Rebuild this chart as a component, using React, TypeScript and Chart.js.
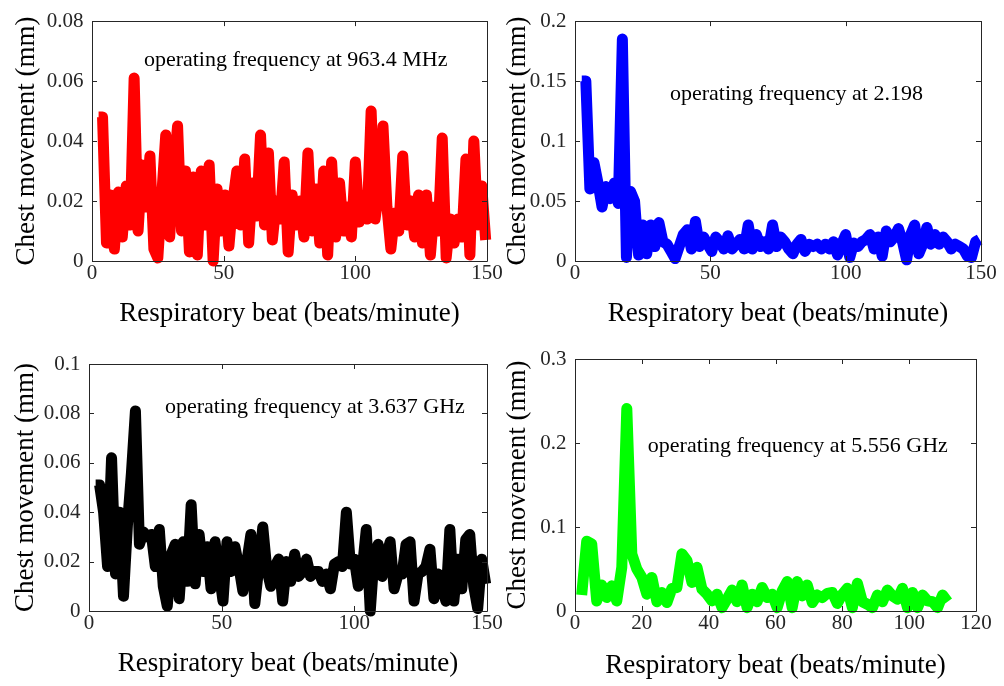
import React, { useEffect, useRef } from "react";
import { Chart, registerables } from "chart.js";

Chart.register(...registerables);

// ---------- data ----------
const beatGrid = [
  2.5, 4, 5.5, 7, 8.5, 10, 11.5, 13, 14.5, 16,
  17.5, 19, 20.5, 22, 23.5, 25, 26.5, 28, 29.5, 31,
  32.5, 34, 35.5, 37, 38.5, 40, 41.5, 43, 44.5, 46,
  47.5, 49, 50.5, 52, 53.5, 55, 56.5, 58, 59.5, 61,
  62.5, 64, 65.5, 67, 68.5, 70, 71.5, 73, 74.5, 76,
  77.5, 79, 80.5, 82, 83.5, 85, 86.5, 88, 89.5, 91,
  92.5, 94, 95.5, 97, 98.5, 100, 101.5, 103, 104.5, 106,
  107.5, 109, 110.5, 112, 113.5, 115, 116.5, 118, 119.5, 121,
  122.5, 124, 125.5, 127, 128.5, 130, 131.5, 133, 134.5, 136,
  137.5, 139, 140.5, 142, 143.5, 145, 146.5, 148, 149.5,
];

const beatGridGreen = [
  2, 3.5, 5, 6.5, 8, 9.5, 11, 12.5, 14, 15.5,
  17, 18.5, 20, 21.5, 23, 24.5, 26, 27.5, 29, 30.5,
  32, 33.5, 35, 36.5, 38, 39.5, 41, 42.5, 44, 45.5,
  47, 48.5, 50, 51.5, 53, 54.5, 56, 57.5, 59, 60.5,
  62, 63.5, 65, 66.5, 68, 69.5, 71, 72.5, 74, 75.5,
  77, 78.5, 80, 81.5, 83, 84.5, 86, 87.5, 89, 90.5,
  92, 93.5, 95, 96.5, 98, 99.5, 101, 102.5, 104, 105.5,
  107, 108.5, 110, 111.5,
];

const move963MHz = [
  0.048, 0.048, 0.006, 0.022, 0.004, 0.023, 0.008, 0.025, 0.012, 0.061,
  0.010, 0.032, 0.018, 0.035, 0.004, 0.001, 0.022, 0.042, 0.008, 0.030,
  0.045, 0.010, 0.030, 0.003, 0.028, 0.002, 0.030, 0.012, 0.032, 0.000,
  0.024, 0.010, 0.022, 0.005, 0.020, 0.030, 0.012, 0.034, 0.006, 0.026,
  0.015, 0.042, 0.012, 0.036, 0.007, 0.020, 0.014, 0.033, 0.003, 0.022,
  0.012, 0.020, 0.008, 0.036, 0.010, 0.024, 0.006, 0.030, 0.002, 0.033,
  0.008, 0.026, 0.010, 0.018, 0.008, 0.033, 0.013, 0.020, 0.014, 0.050,
  0.014, 0.024, 0.045, 0.018, 0.004, 0.016, 0.010, 0.035, 0.012, 0.020,
  0.008, 0.022, 0.006, 0.022, 0.002, 0.018, 0.010, 0.041, 0.001, 0.014,
  0.006, 0.014, 0.008, 0.034, 0.002, 0.040, 0.012, 0.025, 0.007,
];

const move2198 = [
  0.150, 0.150, 0.060, 0.082, 0.065, 0.045, 0.062, 0.052, 0.065, 0.048,
  0.185, 0.003, 0.058, 0.050, 0.005, 0.030, 0.006, 0.030, 0.012, 0.032,
  0.016, 0.014, 0.008, 0.002, 0.012, 0.022, 0.026, 0.010, 0.033, 0.012,
  0.020, 0.014, 0.008, 0.020, 0.016, 0.010, 0.021, 0.010, 0.014, 0.018,
  0.010, 0.030, 0.010, 0.022, 0.012, 0.016, 0.010, 0.030, 0.012, 0.020,
  0.016, 0.010, 0.006, 0.014, 0.018, 0.008, 0.014, 0.012, 0.014, 0.010,
  0.014, 0.010, 0.016, 0.005, 0.014, 0.022, 0.003, 0.015, 0.012, 0.016,
  0.018, 0.022, 0.010, 0.020, 0.004, 0.025, 0.016, 0.020, 0.027, 0.016,
  0.001, 0.022, 0.030, 0.006, 0.014, 0.028, 0.014, 0.022, 0.014, 0.020,
  0.016, 0.010, 0.014, 0.012, 0.010, 0.004, 0.003, 0.016, 0.018,
];

const move3637GHz = [
  0.051, 0.051, 0.040, 0.018, 0.062, 0.015, 0.040, 0.006, 0.035, 0.056,
  0.081, 0.027, 0.032, 0.030, 0.031, 0.018, 0.033, 0.010, 0.002, 0.023,
  0.027, 0.005, 0.028, 0.012, 0.043, 0.011, 0.031, 0.016, 0.026, 0.009,
  0.028, 0.016, 0.004, 0.028, 0.016, 0.026, 0.018, 0.008, 0.020, 0.031,
  0.003, 0.018, 0.034, 0.017, 0.010, 0.018, 0.021, 0.004, 0.020, 0.012,
  0.023, 0.014, 0.016, 0.021, 0.014, 0.016, 0.016, 0.012, 0.015, 0.009,
  0.019, 0.020, 0.018, 0.040, 0.019, 0.021, 0.010, 0.017, 0.033, 0.000,
  0.023, 0.027, 0.014, 0.022, 0.028, 0.009, 0.015, 0.015, 0.027, 0.028,
  0.004, 0.015, 0.016, 0.018, 0.025, 0.005, 0.015, 0.010, 0.004, 0.033,
  0.004, 0.021, 0.009, 0.029, 0.031, 0.010, 0.001, 0.021, 0.011,
];

const move5556GHz = [
  0.019, 0.083, 0.080, 0.012, 0.031, 0.016, 0.030, 0.012, 0.052, 0.241,
  0.068, 0.050, 0.040, 0.020, 0.040, 0.011, 0.022, 0.010, 0.027, 0.028,
  0.068, 0.060, 0.034, 0.052, 0.026, 0.020, 0.012, 0.020, 0.004, 0.014,
  0.025, 0.011, 0.031, 0.004, 0.020, 0.011, 0.028, 0.016, 0.020, 0.004,
  0.024, 0.035, 0.004, 0.035, 0.018, 0.031, 0.010, 0.019, 0.016, 0.021,
  0.022, 0.009, 0.020, 0.027, 0.004, 0.033, 0.011, 0.008, 0.004, 0.019,
  0.011, 0.025, 0.018, 0.014, 0.027, 0.004, 0.022, 0.004, 0.019, 0.012,
  0.011, 0.004, 0.019, 0.011,
];

const notes = [
  "operating frequency at 963.4 MHz",
  "operating frequency at 2.198",
  "operating frequency at 3.637 GHz",
  "operating frequency at 5.556 GHz",
];

const xTitle = "Respiratory beat (beats/minute)";
const yTitle = "Chest movement (mm)";

// ---------- drawing ----------
const FONT = '"Liberation Serif", "Times New Roman", Times, serif';
const AXIS_COLOR = "#262626";

type PanelProps = {
  xs: number[];
  ys: number[];
  color: string;
  xMax: number;
  xStep: number;
  yMax: number;
  yStep: number;
  note: string;
  noteAt: [number, number];
  canvas: { x: number; y: number; w: number; h: number };
  area: { L: number; T: number; R: number; B: number };
  yTitlePad: number;
  xTitlePad: number;
};

const fmt = (v: number | string) => String(Number(Number(v).toFixed(4)));

const boxPlugin = {
  id: "matlabBox",
  afterDatasetsDraw(chart: any, _args: any, opts: any) {
    const { ctx, chartArea, scales } = chart;
    const { left, top, right, bottom } = chartArea;
    ctx.save();
    ctx.strokeStyle = AXIS_COLOR;
    ctx.lineWidth = 1;
    ctx.beginPath();
    ctx.rect(Math.round(left) + 0.5, Math.round(top) + 0.5, Math.round(right - left), Math.round(bottom - top));
    ctx.stroke();
    const tl = 5;
    ctx.beginPath();
    scales.x.ticks.forEach((t: any) => {
      const px = Math.round(scales.x.getPixelForValue(t.value)) + 0.5;
      ctx.moveTo(px, bottom);
      ctx.lineTo(px, bottom - tl);
      ctx.moveTo(px, top);
      ctx.lineTo(px, top + tl);
    });
    scales.y.ticks.forEach((t: any) => {
      const py = Math.round(scales.y.getPixelForValue(t.value)) + 0.5;
      ctx.moveTo(left, py);
      ctx.lineTo(left + tl, py);
      ctx.moveTo(right, py);
      ctx.lineTo(right - tl, py);
    });
    ctx.stroke();
    if (opts && opts.text) {
      ctx.fillStyle = "#000000";
      ctx.font = `22px ${FONT}`;
      ctx.textAlign = "left";
      ctx.textBaseline = "alphabetic";
      ctx.fillText(
        opts.text,
        scales.x.getPixelForValue(opts.at[0]),
        scales.y.getPixelForValue(opts.at[1])
      );
    }
    ctx.restore();
  },
};

function Panel(p: PanelProps) {
  const ref = useRef<HTMLCanvasElement | null>(null);
  useEffect(() => {
    if (!ref.current) return;
    const { canvas, area } = p;
    const yAxisWidth = area.L - canvas.x;
    const xAxisHeight = canvas.y + canvas.h - area.B;
    const chart = new Chart(ref.current, {
      type: "line",
      data: {
        datasets: [
          {
            data: p.xs.map((x, i) => ({ x, y: p.ys[i] })),
            borderColor: p.color,
            backgroundColor: p.color,
            borderWidth: 11,
            pointRadius: 0,
            tension: 0,
            borderJoinStyle: "round",
            borderCapStyle: "butt",
            clip: false as any,
          },
        ],
      },
      options: {
        responsive: false,
        animation: false,
        events: [],
        layout: {
          padding: {
            left: 0,
            top: area.T - canvas.y,
            right: canvas.x + canvas.w - area.R,
            bottom: 0,
          },
        },
        plugins: {
          legend: { display: false },
          tooltip: { enabled: false },
          title: { display: false },
          matlabBox: { text: p.note, at: p.noteAt },
        } as any,
        scales: {
          x: {
            type: "linear",
            min: 0,
            max: p.xMax,
            grid: { display: false, drawTicks: false },
            border: { display: false },
            ticks: {
              stepSize: p.xStep,
              padding: 0,
              color: AXIS_COLOR,
              font: { family: FONT, size: 21 },
              maxRotation: 0,
              callback: (v: any) => fmt(v),
            },
            title: {
              display: true,
              text: xTitle,
              color: "#000000",
              font: { family: FONT, size: 27 },
              padding: { top: 0, bottom: p.xTitlePad },
            },
            afterFit: (s: any) => {
              s.height = xAxisHeight;
            },
          },
          y: {
            type: "linear",
            min: 0,
            max: p.yMax,
            grid: { display: false, drawTicks: false },
            border: { display: false },
            ticks: {
              stepSize: p.yStep,
              padding: 8.5,
              color: AXIS_COLOR,
              font: { family: FONT, size: 21 },
              callback: (v: any) => fmt(v),
            },
            title: {
              display: true,
              text: yTitle,
              color: "#000000",
              font: { family: FONT, size: 27 },
              padding: { top: p.yTitlePad, bottom: 0 },
            },
            afterFit: (s: any) => {
              s.width = yAxisWidth;
            },
          },
        },
      },
      plugins: [boxPlugin],
    });
    return () => chart.destroy();
  }, []);
  return (
    <canvas
      ref={ref}
      width={p.canvas.w}
      height={p.canvas.h}
      style={{
        position: "absolute",
        left: p.canvas.x,
        top: p.canvas.y,
        width: p.canvas.w,
        height: p.canvas.h,
      }}
    />
  );
}

export default function App() {
  return (
    <div
      style={{
        position: "absolute",
        left: 0,
        top: 0,
        width: 1004,
        height: 686,
        background: "#ffffff",
        overflow: "hidden",
      }}
    >
      <Panel
        xs={beatGrid}
        ys={move963MHz}
        color="#ff0000"
        xMax={150}
        xStep={50}
        yMax={0.08}
        yStep={0.02}
        note={notes[0]}
        noteAt={[19.7, 0.0651]}
        canvas={{ x: 0, y: 0, w: 512, h: 340 }}
        area={{ L: 92, T: 14, R: 487, B: 261 }}
        yTitlePad={10.8}
        xTitlePad={9.8}
      />
      <Panel
        xs={beatGrid}
        ys={move2198}
        color="#0000ff"
        xMax={150}
        xStep={50}
        yMax={0.2}
        yStep={0.05}
        note={notes[1]}
        noteAt={[35.1, 0.1344]}
        canvas={{ x: 495, y: 0, w: 509, h: 340 }}
        area={{ L: 575, T: 13, R: 981, B: 261 }}
        yTitlePad={6.4}
        xTitlePad={9.8}
      />
      <Panel
        xs={beatGrid}
        ys={move3637GHz}
        color="#000000"
        xMax={150}
        xStep={50}
        yMax={0.1}
        yStep={0.02}
        note={notes[2]}
        noteAt={[28.6, 0.08]}
        canvas={{ x: 0, y: 335, w: 512, h: 351 }}
        area={{ L: 89, T: 364, R: 487, B: 611 }}
        yTitlePad={9.8}
        xTitlePad={5.8}
      />
      <Panel
        xs={beatGridGreen}
        ys={move5556GHz}
        color="#00ff00"
        xMax={120}
        xStep={20}
        yMax={0.3}
        yStep={0.1}
        note={notes[3]}
        noteAt={[21.8, 0.1896]}
        canvas={{ x: 495, y: 335, w: 509, h: 351 }}
        area={{ L: 575, T: 359, R: 976, B: 611 }}
        yTitlePad={6.4}
        xTitlePad={3.8}
      />
    </div>
  );
}
